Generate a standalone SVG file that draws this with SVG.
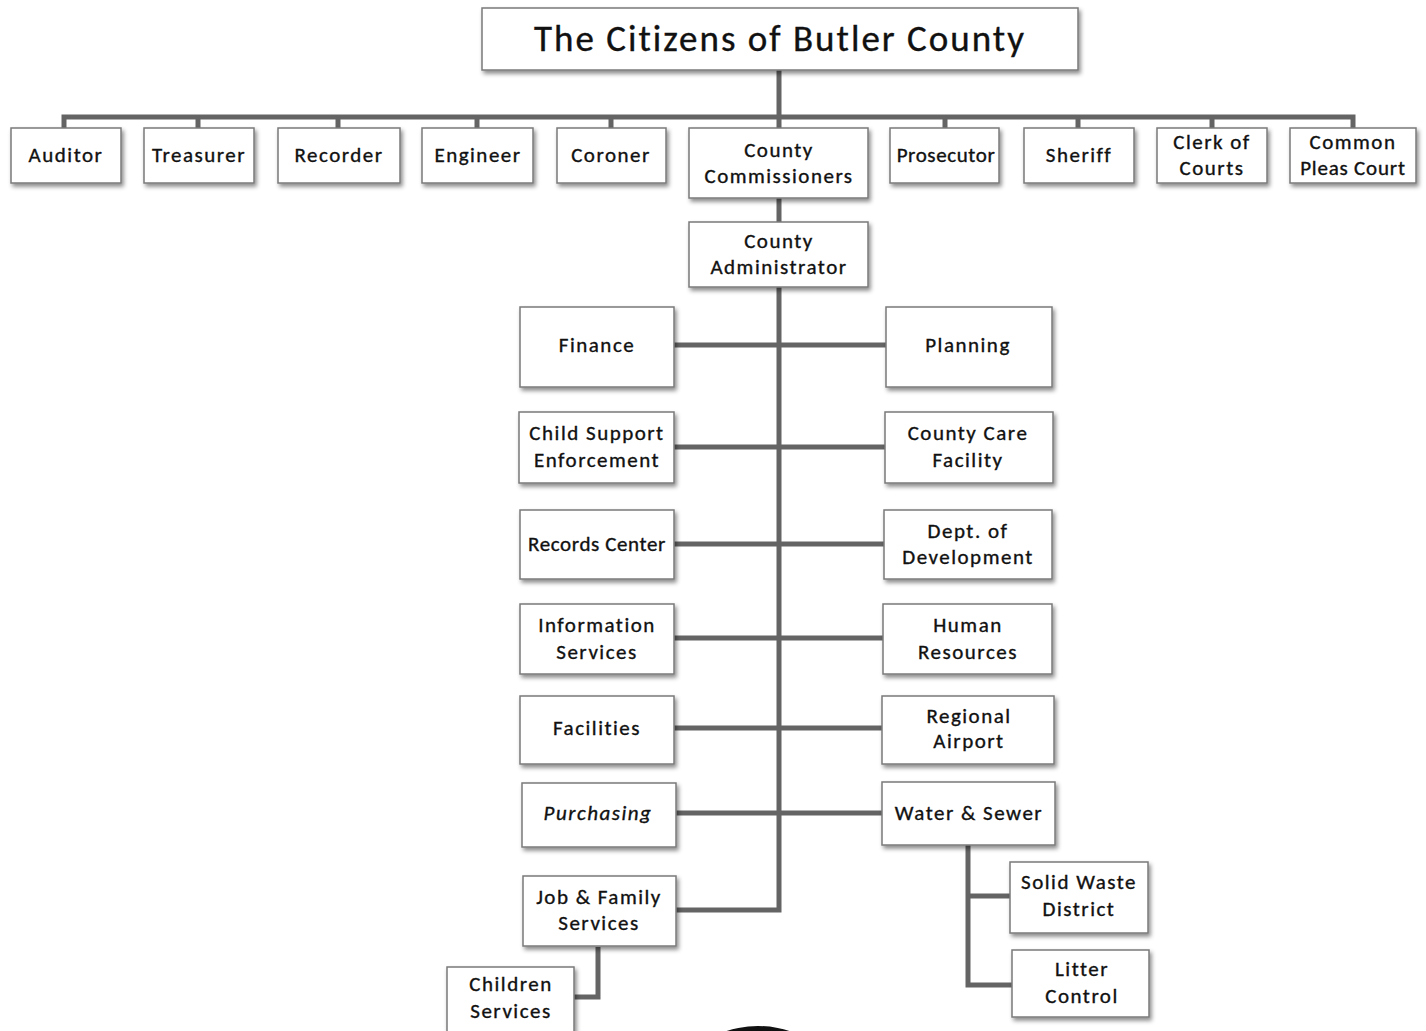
<svg xmlns="http://www.w3.org/2000/svg" width="1426" height="1031" viewBox="0 0 1426 1031">
<defs>
<filter id="sh" x="-10%" y="-10%" width="125%" height="135%">
<feDropShadow dx="2" dy="3" stdDeviation="2" flood-color="#000" flood-opacity="0.45"/>
</filter>
</defs>
<style>
.b{fill:#fff;stroke:#7a7a7a;stroke-width:1.5;filter:url(#sh)}
.t{font-family:Carlito,Lato,"Open Sans",sans-serif;font-size:21px;letter-spacing:1.5px;fill:#111;stroke:#111;stroke-width:0.35px;text-anchor:middle;dominant-baseline:central}
.c{fill:none;stroke:#646464;stroke-width:5;stroke-linejoin:miter}
</style>
<rect width="1426" height="1031" fill="#fff"/>
<g id="connectors">
<path class="c" d="M779 70V128M64 128V117H1353V128M198 117V128M338 117V128M477 117V128M611 117V128M945 117V128M1078 117V128M1212 117V128"/>
<path class="c" d="M779 198V222M779 287V910H676"/>
<path class="c" d="M674 345H886M674 447H885M674 544H884M674 638H883M674 728H882M676 813H882"/>
<path class="c" d="M598 947V997H574"/>
<path class="c" d="M968 845V985H1012M968 896H1010"/>
</g>
<g id="title"><rect class="b" x="482" y="8" width="596" height="62"/><text class="t" x="780" y="38" style="font-size:37px;letter-spacing:2px">The Citizens of Butler County</text></g>
<g id="auditor"><rect class="b" x="11" y="128" width="110" height="55"/><text class="t" x="66" y="155">Auditor</text></g>
<g id="treasurer"><rect class="b" x="144" y="128" width="110" height="55"/><text class="t" x="199" y="155">Treasurer</text></g>
<g id="recorder"><rect class="b" x="278" y="128" width="122" height="55"/><text class="t" x="339" y="155">Recorder</text></g>
<g id="engineer"><rect class="b" x="422" y="128" width="111" height="55"/><text class="t" x="478" y="155">Engineer</text></g>
<g id="coroner"><rect class="b" x="557" y="128" width="109" height="55"/><text class="t" x="611" y="155">Coroner</text></g>
<g id="commissioners"><rect class="b" x="689" y="128" width="179" height="70"/><text class="t" x="779" y="150">County</text><text class="t" x="779" y="176">Commissioners</text></g>
<g id="prosecutor"><rect class="b" x="890" y="128" width="109" height="55"/><text class="t" x="946" y="155" style="letter-spacing:0.6px">Prosecutor</text></g>
<g id="sheriff"><rect class="b" x="1024" y="128" width="110" height="55"/><text class="t" x="1079" y="155">Sheriff</text></g>
<g id="clerk"><rect class="b" x="1157" y="128" width="110" height="55"/><text class="t" x="1212" y="142">Clerk of</text><text class="t" x="1212" y="168">Courts</text></g>
<g id="commonpleas"><rect class="b" x="1290" y="128" width="126" height="55"/><text class="t" x="1353" y="142">Common</text><text class="t" x="1353" y="168" style="letter-spacing:0.8px">Pleas Court</text></g>
<g id="administrator"><rect class="b" x="689" y="222" width="179" height="65"/><text class="t" x="779" y="241">County</text><text class="t" x="779" y="267">Administrator</text></g>
<g id="finance"><rect class="b" x="520" y="307" width="154" height="80"/><text class="t" x="597" y="345">Finance</text></g>
<g id="planning"><rect class="b" x="886" y="307" width="166" height="80"/><text class="t" x="968" y="345">Planning</text></g>
<g id="childsupport"><rect class="b" x="519" y="412" width="155" height="71"/><text class="t" x="597" y="433">Child Support</text><text class="t" x="597" y="460">Enforcement</text></g>
<g id="countycare"><rect class="b" x="885" y="412" width="168" height="71"/><text class="t" x="968" y="433">County Care</text><text class="t" x="968" y="460">Facility</text></g>
<g id="records"><rect class="b" x="520" y="510" width="154" height="69"/><text class="t" x="597" y="544" style="letter-spacing:0.6px">Records Center</text></g>
<g id="development"><rect class="b" x="884" y="510" width="168" height="69"/><text class="t" x="968" y="531">Dept. of</text><text class="t" x="968" y="557">Development</text></g>
<g id="infoservices"><rect class="b" x="520" y="604" width="154" height="70"/><text class="t" x="597" y="625">Information</text><text class="t" x="597" y="652">Services</text></g>
<g id="hr"><rect class="b" x="883" y="604" width="169" height="70"/><text class="t" x="968" y="625">Human</text><text class="t" x="968" y="652">Resources</text></g>
<g id="facilities"><rect class="b" x="520" y="696" width="154" height="68"/><text class="t" x="597" y="728">Facilities</text></g>
<g id="airport"><rect class="b" x="882" y="696" width="172" height="68"/><text class="t" x="969" y="716">Regional</text><text class="t" x="969" y="741">Airport</text></g>
<g id="purchasing"><rect class="b" x="522" y="783" width="154" height="64"/><text class="t" x="598" y="813" style="font-style:italic">Purchasing</text></g>
<g id="watersewer"><rect class="b" x="882" y="782" width="173" height="63"/><text class="t" x="969" y="813">Water &amp; Sewer</text></g>
<g id="jobfamily"><rect class="b" x="523" y="876" width="153" height="70"/><text class="t" x="599" y="897">Job &amp; Family</text><text class="t" x="599" y="923">Services</text></g>
<g id="children"><rect class="b" x="447" y="967" width="127" height="72"/><text class="t" x="511" y="984">Children</text><text class="t" x="511" y="1011">Services</text></g>
<g id="solidwaste"><rect class="b" x="1010" y="862" width="138" height="71"/><text class="t" x="1079" y="882">Solid Waste</text><text class="t" x="1079" y="909">District</text></g>
<g id="litter"><rect class="b" x="1012" y="950" width="137" height="67"/><text class="t" x="1082" y="969">Litter</text><text class="t" x="1082" y="996">Control</text></g>
<circle cx="758" cy="1127" r="101" fill="#111"/>
</svg>
